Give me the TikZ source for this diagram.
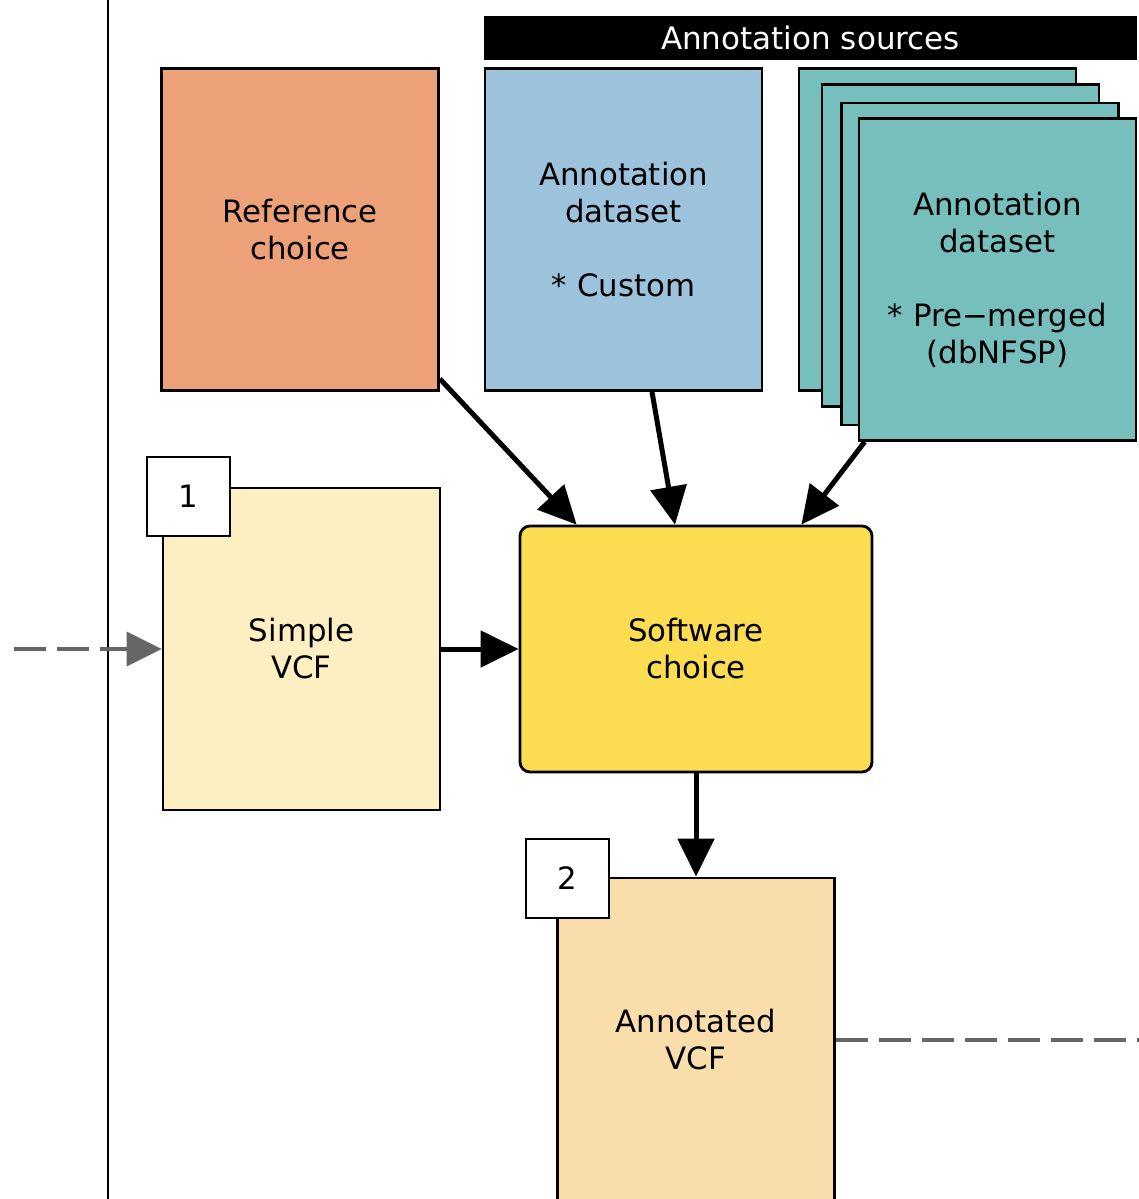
\documentclass[tikz,border=0pt]{standalone}
\usepackage{fontspec}
\setmainfont{DejaVu Sans}
\usetikzlibrary{arrows.meta,calc}
\definecolor{refc}{RGB}{237,161,120}
\definecolor{custc}{RGB}{157,195,220}
\definecolor{tealc}{RGB}{118,191,189}
\definecolor{simpc}{RGB}{253,239,194}
\definecolor{softc}{RGB}{252,221,82}
\definecolor{annc}{RGB}{249,222,171}
\definecolor{dashg}{RGB}{102,102,102}
\begin{document}
\begin{tikzpicture}[x=0.5pt,y=-0.5pt,
  txt/.style={font=\fontsize{15.4}{18.5}\selectfont},
  box/.style={draw=black,line width=1.4pt,inner sep=0pt,align=center,txt,
    minimum width=138.5pt,minimum height=161pt},
  badge/.style={draw=black,fill=white,line width=1.4pt,inner sep=0pt,txt,
    minimum width=41.5pt,minimum height=39.5pt},
  flow/.style={line width=2.5pt,-{Triangle[length=19pt,width=18pt]}},
  dashflow/.style={draw=dashg,line width=2.2pt,dash pattern=on 16pt off 5.5pt},
]
\clip (0,0) rectangle (1139,1199);
\useasboundingbox (0,0) rectangle (1139,1199);
% vertical divider
\coordinate (vtop) at (108,0);
\coordinate (vbot) at (108,1199);
\draw[line width=1.1pt] (vtop) -- (vbot);
% header
\node[fill=black,text=white,inner sep=0pt,minimum width=326.5pt,minimum height=22pt,
  font=\fontsize{15.5}{18.5}\selectfont] (hdr) at (810.5,38) {Annotation sources};
% reference choice
\node[box,fill=refc] (ref) at (300,229.5) {Reference\\choice};
% custom dataset
\node[box,fill=custc] (cust) at (623.5,229.5) {Annotation\\dataset\\[18.5pt]* Custom};
% stacked datasets
\node[box,fill=tealc] (s1) at (937.5,229.5) {};
\node[box,fill=tealc] (s2) at (960.5,245.5) {};
\node[box,fill=tealc] (s3) at (980,264) {};
\node[box,fill=tealc] (s4) at (997.5,279.5) {Annotation\\dataset\\[18.5pt]* Pre−merged\\(dbNFSP)};
% simple VCF
\node[box,fill=simpc] (simp) at (301.5,649) {Simple\\VCF};
\node[badge] (b1) at (188.5,496.5) {1};
% software choice
\node[box,fill=softc,rounded corners=5pt,minimum width=176pt,minimum height=123pt] (sw) at (696,649) {Software\\choice};
% annotated VCF
\node[box,fill=annc,minimum height=162pt] (ann) at (696,1040) {Annotated\\VCF};
\node[badge] (b2) at (567.5,878.5) {2};
% arrows
\draw[flow] ([yshift=6.5pt]ref.south east) -- ([xshift=29pt]sw.north west);
\draw[flow] ([xshift=14.25pt]cust.south) -- ([xshift=-10.5pt]sw.north);
\draw[flow] ([xshift=3.5pt]s4.south west) -- ([xshift=-36pt]sw.north east);
\draw[flow] (simp.east) -- (sw.west);
\draw[flow] (sw.south) -- (ann.north);
% dashed connectors
\coordinate (inL) at (14,649);
\coordinate (outR) at (1145,1040);
\draw[dashflow] (inL) -- ([xshift=-17pt]simp.west);
\fill[dashg] (simp.west) -- ++(-17.5pt,8.75pt) -- ++(0,-17.5pt) -- cycle;
\draw[dashflow] (ann.east) -- (outR);
\end{tikzpicture}
\end{document}
